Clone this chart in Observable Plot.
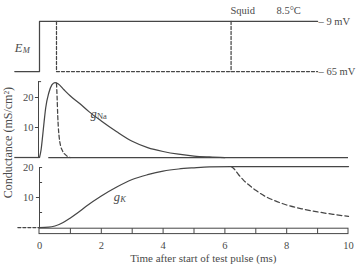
<!DOCTYPE html>
<html>
<head>
<meta charset="utf-8">
<script src="https://cdn.jsdelivr.net/npm/d3@7"></script>
<script src="https://cdn.jsdelivr.net/npm/@observablehq/plot@0.6"></script>
<style>
  body { margin: 0; background: #fff; }
  #chart svg { display: block; }
</style>
</head>
<body>
<div id="chart"></div>
<script>
// Voltage-clamp step in squid axon (8.5 °C): membrane potential (top) and the
// Na+ and K+ conductances it evokes; dashed traces follow early repolarization.

// Membrane potential levels (mV) and step timing (ms)
const holdingPotential = -65;
const testPotential = -9;
const traceStart = -0.8;
const traceEnd = 9.0;
const earlyRepol = 0.55;
const lateRepol = 6.2;

// gNa during the maintained step
const naTime = [0, 0.05, 0.1, 0.15, 0.2, 0.3, 0.4, 0.5, 0.6, 0.8, 1.0, 1.3, 1.6, 2.0, 2.5, 3.0, 3.5, 4.0, 4.5, 5.0, 5.5, 6.0];
const naCond = [0, 2.5, 7, 12, 16.5, 21.5, 24.2, 25, 24.6, 22.5, 20.5, 18, 15.3, 12.2, 8.6, 5.4, 3.3, 2, 1.1, 0.5, 0.2, 0];
// gNa after repolarizing at 0.55 ms
const naRepTime = [0.55, 0.57, 0.59, 0.61, 0.64, 0.68, 0.74, 0.82, 0.9, 1.0];
const naRepCond = [24.8, 20, 14, 10, 6.5, 4, 2.3, 1.1, 0.4, 0];

// gK during the maintained step
const kTime = [0, 0.3, 0.5, 0.75, 1.0, 1.25, 1.5, 2.0, 2.5, 3.0, 3.5, 4.0, 4.5, 5.0, 5.5, 6.2, 8, 10];
const kCond = [0, 0.1, 0.5, 1.6, 3.2, 5, 7, 10.5, 13.5, 16, 17.6, 18.8, 19.5, 19.9, 20.2, 20.3, 20.3, 20.3];
// gK after repolarizing at 6.2 ms
const kRepTime = [6.2, 6.3, 6.45, 6.6, 6.8, 7.0, 7.3, 7.6, 8.0, 8.5, 9.0, 9.5, 10];
const kRepCond = [20.3, 19.5, 17.5, 15.8, 14, 12.4, 10.4, 9, 7.5, 6.2, 5.2, 4.4, 3.7];

// Axis ticks
const timeTicks = [0, 2, 4, 6, 8, 10];
const timeMinor = [1, 2, 3, 4, 5, 6, 7, 8, 9];
const naTicks = [10, 20];
const kTicks = [10, 20];
const kMinorTicks = [5, 15];

// Panels share one vertical conductance scale; upper panels are stacked by offset.
const naBase = 23.33;            // gNa zero line
const naTop = 25.3;              // top of the gNa axis bracket
const emBase = 52;               // holding potential level
const emGain = 16.67 / 56;       // layout units per mV in the E_M panel
const emY = mv => emBase + (mv - holdingPotential) * emGain;

const zip = (ts, vs) => ts.map((t, i) => ({t, v: vs[i]}));

const ink = "#464646";
const textInk = "#4a4a4a";
const serif = "Liberation Serif, DejaVu Serif, serif";
const lw = 1.25;

const emSolid = [
  {t: traceStart, mv: holdingPotential}, {t: 0, mv: holdingPotential},
  {t: 0, mv: testPotential}, {t: traceEnd, mv: testPotential}
];
const emEarly = [
  {t: earlyRepol, mv: testPotential}, {t: earlyRepol, mv: holdingPotential},
  {t: traceEnd, mv: holdingPotential}
];
const emLate = [
  {t: lateRepol, mv: testPotential}, {t: lateRepol, mv: holdingPotential}
];

const chart = Plot.plot({
  width: 362,
  height: 265,
  marginLeft: 39,
  marginRight: 14,
  marginTop: 0,
  marginBottom: 0,
  x: {domain: [0, 10], axis: null},
  y: {domain: [0, 20], range: [227, 167], axis: null},
  style: {background: "#fff", overflow: "visible", fontFamily: serif},
  marks: [
    // E_M panel
    Plot.line(emSolid, {x: "t", y: d => emY(d.mv), stroke: ink, strokeWidth: lw}),
    Plot.line(emEarly, {x: "t", y: d => emY(d.mv), stroke: ink, strokeWidth: lw, strokeDasharray: "3,2"}),
    Plot.line(emLate, {x: "t", y: d => emY(d.mv), stroke: ink, strokeWidth: lw, strokeDasharray: "3,2"}),
    Plot.text([testPotential, holdingPotential], {
      x: traceEnd, y: d => emY(d), text: d => `\u2013 ${-d} mV`,
      textAnchor: "start", dx: 1, fontSize: 10.5, fill: textInk
    }),
    Plot.text(["Squid"], {x: 6.18, y: 72.3, text: d => d, textAnchor: "start", fontSize: 10.5, fill: textInk}),
    Plot.text(["8.5\u00b0C"], {x: 7.67, y: 72.3, text: d => d, textAnchor: "start", fontSize: 10.5, fill: textInk}),
    Plot.text(["E"], {x: -0.8, y: 60, text: d => d, textAnchor: "start", fontSize: 12.5, fontStyle: "italic", fill: textInk}),
    Plot.text(["M"], {x: -0.8, y: 60, text: d => d, textAnchor: "start", dx: 8, dy: 3, fontSize: 8.5, fontStyle: "italic", fill: textInk}),

    // gNa panel
    Plot.ruleY([naBase], {x1: traceStart, x2: 0, stroke: ink, strokeWidth: lw}),
    Plot.ruleY([naBase], {x1: 0.3, x2: 10, stroke: ink, strokeWidth: lw}),
    Plot.line(zip(naTime, naCond), {x: "t", y: d => naBase + d.v, stroke: ink, strokeWidth: lw, curve: "monotone-x"}),
    Plot.line(zip(naRepTime, naRepCond), {x: "t", y: d => naBase + d.v, stroke: ink, strokeWidth: lw, strokeDasharray: "4,2.5", curve: "monotone-x"}),
    Plot.ruleX([0], {y1: naBase, y2: naBase + naTop, dx: -1, stroke: ink, strokeWidth: 1}),
    Plot.ruleY([naBase + naTop], {x1: 0, x2: 0.1, dx: -1, stroke: ink, strokeWidth: 1}),
    Plot.ruleY(naTicks, {y: d => naBase + d, x1: -0.1, x2: 0, dx: -1, stroke: ink, strokeWidth: 1}),
    Plot.text(naTicks, {x: 0, y: d => naBase + d, text: d => String(d), textAnchor: "end", dx: -6, fontSize: 10.5, fill: textInk}),
    Plot.text(["g"], {x: 1.65, y: 38, text: d => d, textAnchor: "start", fontSize: 12.5, fontStyle: "italic", fill: textInk}),
    Plot.text(["Na"], {x: 1.65, y: 38, text: d => d, textAnchor: "start", dx: 6.5, dy: 3, fontSize: 8.5, fill: textInk}),

    // gK panel
    Plot.line([{t: -0.7, v: 0}, {t: 0, v: 0}], {x: "t", y: "v", stroke: ink, strokeWidth: lw, strokeDasharray: "3,2"}),
    Plot.line(zip(kTime, kCond), {x: "t", y: "v", stroke: ink, strokeWidth: lw, curve: "monotone-x"}),
    Plot.line(zip(kRepTime, kRepCond), {x: "t", y: "v", stroke: ink, strokeWidth: lw, strokeDasharray: "5,3", curve: "monotone-x"}),
    Plot.ruleX([0], {y1: 0, y2: 20, stroke: ink, strokeWidth: 1}),
    Plot.ruleY([20], {x1: 0, x2: 0.1, stroke: ink, strokeWidth: 1}),
    Plot.ruleY(kMinorTicks, {x1: 0, x2: 0.1, stroke: ink, strokeWidth: 1}),
    Plot.ruleY([10], {x1: -0.1, x2: 0, stroke: ink, strokeWidth: 1}),
    Plot.text(kTicks, {x: 0, y: d => d, text: d => String(d), textAnchor: "end", dx: -6, fontSize: 10.5, fill: textInk}),
    Plot.text(["g"], {x: 2.4, y: 10.3, text: d => d, textAnchor: "start", fontSize: 12.5, fontStyle: "italic", fill: textInk}),
    Plot.text(["K"], {x: 2.4, y: 10.3, text: d => d, textAnchor: "start", dx: 6.5, dy: 3, fontSize: 8.5, fontStyle: "italic", fill: textInk}),

    // shared conductance label
    Plot.text(["Conductance (mS/cm\u00b2)"], {x: -1.0, y: 28.3, text: d => d, rotate: -90, fontSize: 12, fill: textInk}),

    // time scale bar
    Plot.rect([0], {x1: 0, x2: 10, y1: -0.4, y2: -2.2, fill: "none", stroke: ink, strokeWidth: 1}),
    Plot.ruleX(timeMinor, {y1: -0.4, y2: -2.2, stroke: ink, strokeWidth: 1}),
    Plot.text(timeTicks, {x: d => d, y: -6, text: d => String(d), fontSize: 10.5, fill: textInk}),
    Plot.text(["Time after start of test pulse (ms)"], {x: 5.3, y: -10.2, text: d => d, fontSize: 11, fill: textInk})
  ]
});

document.getElementById("chart").appendChild(chart);
</script>
</body>
</html>
